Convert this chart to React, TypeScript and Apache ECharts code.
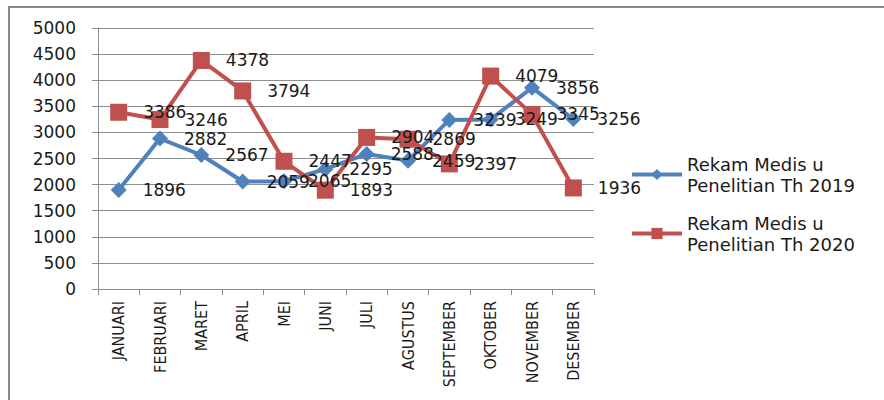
import React, { useEffect, useRef } from "react";
import * as echarts from "echarts";

const months = [
  "JANUARI", "FEBRUARI", "MARET", "APRIL", "MEI", "JUNI",
  "JULI", "AGUSTUS", "SEPTEMBER", "OKTOBER", "NOVEMBER", "DESEMBER",
];
const values2019 = [1896, 2882, 2567, 2059, 2065, 2295, 2588, 2459, 3239, 3249, 3856, 3256];
const values2020 = [3386, 3246, 4378, 3794, 2447, 1893, 2904, 2869, 2397, 4079, 3345, 1936];
const name2019 = "Rekam Medis u Penelitian Th 2019";
const name2020 = "Rekam Medis u Penelitian Th 2020";

const BLUE = "#4F81BD";
const RED = "#C0504D";
const GRID = "#8E8E8E";
const NUM_FONT = "'DejaVu Sans', Verdana, sans-serif";

export default function App() {
  const ref = useRef<HTMLDivElement>(null);

  useEffect(() => {
    if (!ref.current) return;
    const chart = echarts.init(ref.current, null, { renderer: "svg" });

    const labelStyle = {
      show: true,
      position: "right" as const,
      distance: 16,
      fontSize: 17,
      fontFamily: NUM_FONT,
      color: "#1a1a1a",
    };

    chart.setOption({
      animation: false,
      backgroundColor: "#ffffff",
      graphic: [
        {
          type: "rect",
          shape: { x: 9, y: 7, width: 900, height: 420 },
          style: { fill: "none", stroke: "#8a8a8a", lineWidth: 2 },
          silent: true,
        },
      ],
      grid: {
        left: 98,
        top: 28,
        right: 290,
        bottom: 111,
        containLabel: false,
        outerBoundsMode: "none",
      },
      legend: {
        orient: "vertical",
        left: 625,
        top: 138,
        itemWidth: 50,
        itemHeight: 14,
        itemGap: -4,
        data: [name2019, name2020],
        lineStyle: { width: 4 },
        formatter: (n: string) => n.replace(" Penelitian", "\nPenelitian"),
        textStyle: {
          fontSize: 18,
          fontFamily: NUM_FONT,
          color: "#1a1a1a",
          lineHeight: 21,
          padding: [21, 0, 0, 0],
        },
      },
      xAxis: {
        type: "category",
        data: months,
        boundaryGap: true,
        axisLine: { lineStyle: { color: GRID, width: 1 } },
        axisTick: { show: true, length: 6, lineStyle: { color: GRID } },
        axisLabel: {
          rotate: 90,
          margin: 12,
          fontSize: 16,
          fontFamily: "'DejaVu Sans Condensed', 'Liberation Sans Narrow', sans-serif",
          color: "#1a1a1a",
          interval: 0,
        },
        splitLine: { show: false },
      },
      yAxis: {
        type: "value",
        min: 0,
        max: 5000,
        interval: 500,
        axisLine: { show: true, lineStyle: { color: GRID, width: 1 } },
        axisTick: { show: true, length: 6, lineStyle: { color: GRID } },
        axisLabel: {
          margin: 22,
          fontSize: 17,
          fontFamily: NUM_FONT,
          color: "#1a1a1a",
          formatter: (v: number) => String(v),
        },
        splitLine: { show: true, lineStyle: { color: GRID, width: 1 } },
      },
      series: [
        {
          name: name2019,
          type: "line",
          data: values2019,
          color: BLUE,
          symbol: "diamond",
          symbolSize: 16,
          lineStyle: { width: 4, color: BLUE },
          itemStyle: { color: BLUE },
          label: labelStyle,
        },
        {
          name: name2020,
          type: "line",
          data: values2020,
          color: RED,
          symbol: "rect",
          symbolSize: 17,
          lineStyle: { width: 4, color: RED },
          itemStyle: { color: RED },
          label: labelStyle,
        },
      ],
    });

    return () => chart.dispose();
  }, []);

  return (
    <div
      ref={ref}
      style={{ position: "fixed", left: 0, top: 0, width: 884, height: 400 }}
    />
  );
}
